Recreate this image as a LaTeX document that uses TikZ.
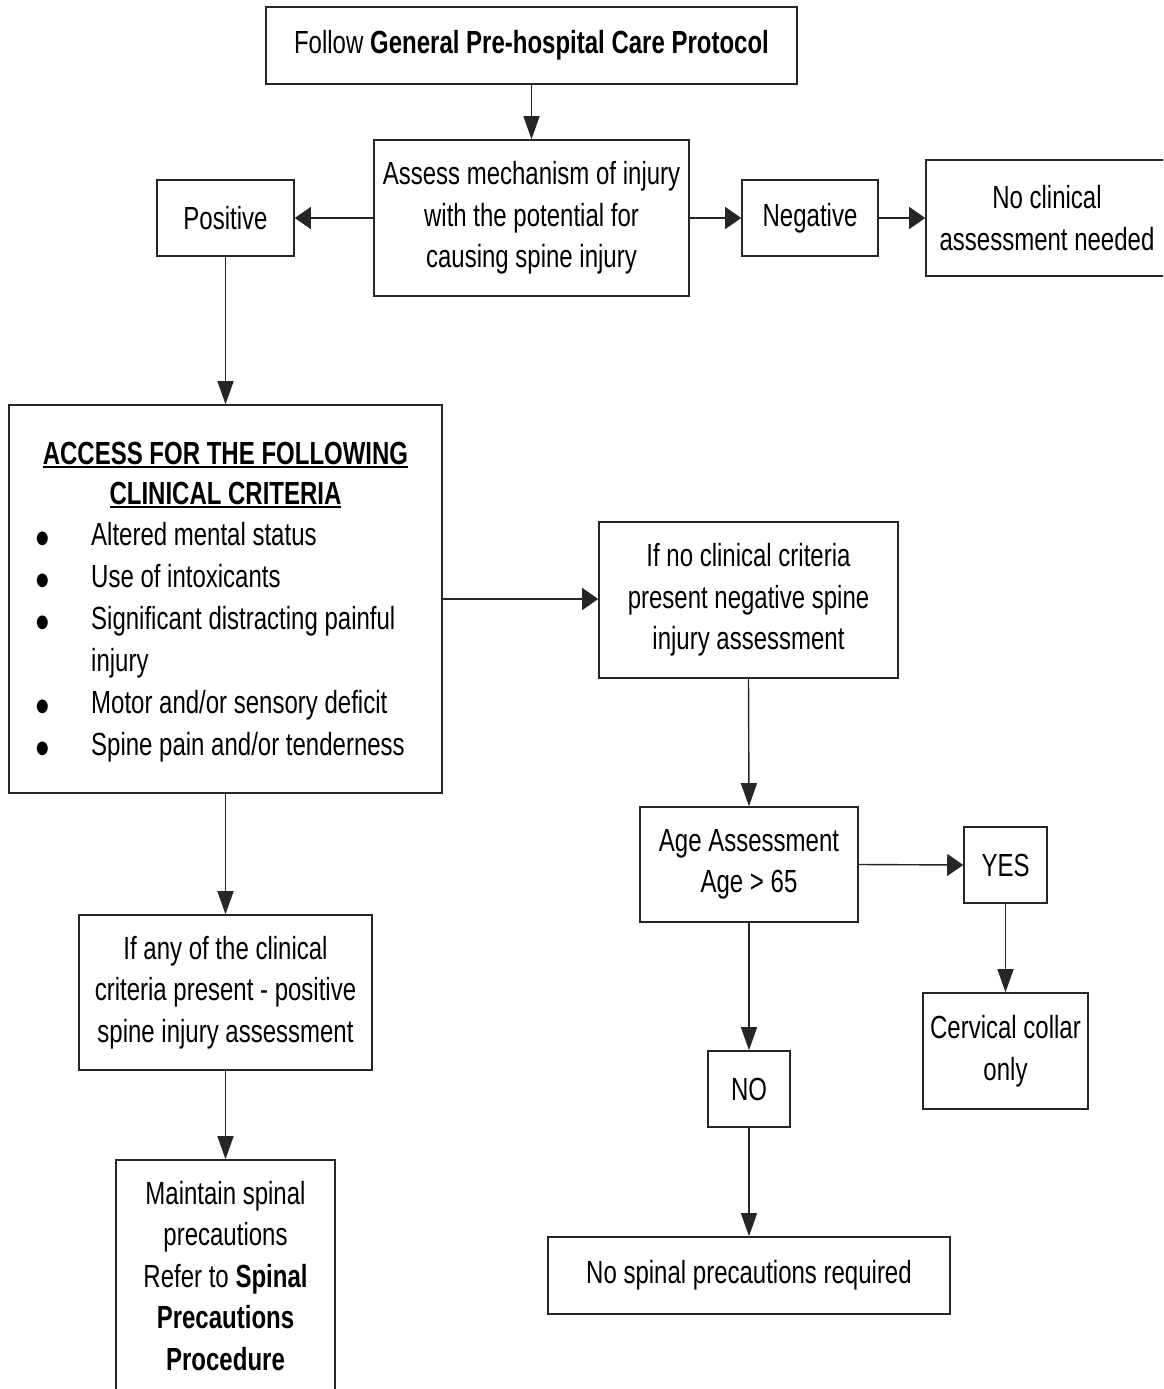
\documentclass[tikz,border=0pt]{standalone}
\usepackage{fontspec}
\setmainfont{Liberation Sans}[FakeStretch=0.75]
\newfontfamily\bulfont{DejaVu Sans}[FakeStretch=0.8]
\usetikzlibrary{arrows.meta}
\newcommand\myul[1]{\setbox0\hbox{#1}\rlap{\rule[-4pt]{\wd0}{2pt}}\box0}
\newcommand\mybul{\raisebox{2.5pt}{\bulfont\fontsize{18}{18}\selectfont ●}}
\begin{document}
\begin{tikzpicture}[x=1pt,y=-1pt,
  box/.style 2 args={draw=black!85, line width=1.6pt, minimum width=#1, minimum height=#2,
    inner sep=0pt, align=center, font=\fontsize{32}{41.5}\selectfont},
  txt/.style={inner sep=0pt, align=center, font=\fontsize{32}{41.5}\selectfont},
  harrow/.style={draw=black!85, line width=1.4pt, -{Triangle[length=16pt,width=22pt]}},
  varrow/.style={draw=black!85, line width=1.4pt, -{Triangle[length=23pt,width=16pt]}}]
\useasboundingbox (0,0) rectangle (1163,1389);
\fill[white] (0,0) rectangle (1163,1389);
\clip (0,0) rectangle (1163,1389);

\node[box={531pt}{77pt}] (top) at (531.5,45.5) {Follow \textbf{General Pre-hospital Care Protocol}};
\node[box={315pt}{156pt}] (assess) at (531.5,218) {Assess mechanism of injury\\with the potential for\\causing spine injury};
\node[box={137pt}{76pt}] (pos) at (225.5,218) {Positive};
\node[box={136pt}{76pt}] (neg) at (810,218) {Negative};
\node[box={242pt}{116pt}] (noclin) at (1047,218) {No clinical\\assessment needed};

\node[box={433pt}{388pt}] (access) at (225.5,599) {};
\node[txt, font=\fontsize{32}{40}\selectfont\bfseries] (title) at (225.5,475) {\myul{ACCESS FOR THE FOLLOWING}\\\myul{CLINICAL CRITERIA}};
\node[inner sep=0pt, anchor=north west, font=\fontsize{32}{42}\selectfont] (crit) at (36,516)
  {\begin{tabular}{@{}p{55pt}@{}l@{}}
  \mybul & Altered mental status\\
  \mybul & Use of intoxicants\\
  \mybul & Significant distracting painful\\
   & injury\\
  \mybul & Motor and/or sensory deficit\\
  \mybul & Spine pain and/or tenderness
  \end{tabular}};

\node[box={299pt}{156pt}] (ifno) at (748.5,600) {If no clinical criteria\\present negative spine\\injury assessment};
\node[box={218pt}{115pt}] (age) at (749,864.5) {Age Assessment\\Age > 65};
\node[box={83pt}{76pt}] (yes) at (1005.5,865) {YES};
\node[box={165pt}{116pt}] (cerv) at (1005.5,1051) {Cervical collar\\only};
\node[box={82pt}{76pt}] (no) at (749,1089) {NO};
\node[box={402pt}{77pt}] (nosp) at (749,1275.5) {No spinal precautions required};
\node[box={293pt}{155pt}] (ifany) at (225.5,992.5) {If any of the clinical\\criteria present - positive\\spine injury assessment};
\node[box={219pt}{232pt}] (maint) at (225.5,1276) {Maintain spinal\\precautions\\Refer to \textbf{Spinal}\\\textbf{Precautions}\\\textbf{Procedure}};

\draw[varrow] (top.south) -- (assess.north);
\draw[harrow] (assess.west) -- (pos.east);
\draw[harrow] (assess.east) -- (neg.west);
\draw[harrow] (neg.east) -- (noclin.west);
\draw[varrow] (pos.south) -- (access.north);
\draw[harrow] (access.east) -- (ifno.west |- access.east);
\draw[varrow] (ifno.south) -- (age.north);
\draw[harrow] (age.east) -- (yes.west);
\draw[varrow] (yes.south) -- (cerv.north);
\draw[varrow] (age.south) -- (no.north);
\draw[varrow] (no.south) -- (nosp.north);
\draw[varrow] (access.south) -- (ifany.north);
\draw[varrow] (ifany.south) -- (maint.north);
\end{tikzpicture}
\end{document}
